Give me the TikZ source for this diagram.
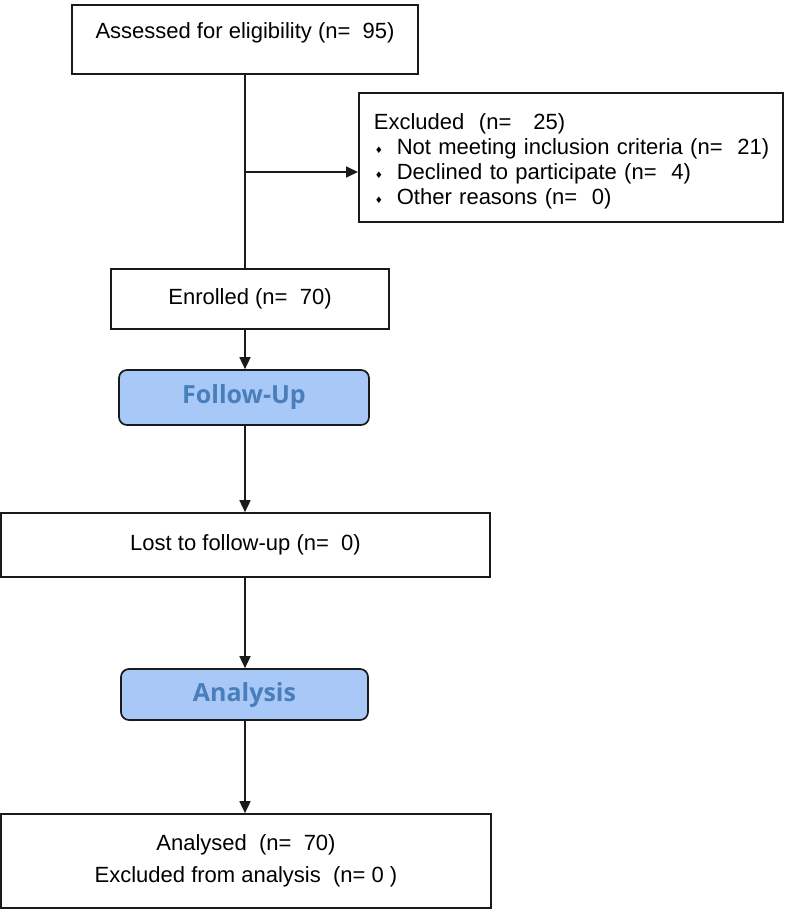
\documentclass[tikz,border=0pt]{standalone}
\usepackage{fontspec}
\setmainfont{Liberation Sans}
\newfontfamily\headfont{Open Sans}
\newfontfamily\symfont{DejaVu Sans}
\usetikzlibrary{arrows.meta}
\definecolor{hdrfill}{HTML}{A8C8F8}
\definecolor{hdrtext}{HTML}{4A7EBB}
\definecolor{edgecol}{HTML}{1A1A1A}
\tikzset{
 box/.style={draw=edgecol, line width=1.7pt, fill=white, inner sep=0pt, font=\fontsize{22}{25}\selectfont},
 hdr/.style={draw=edgecol, line width=1.7pt, fill=hdrfill, rounded corners=8pt, inner sep=0pt, text=hdrtext, font=\headfont\bfseries\fontsize{25}{29}\selectfont},
 conn/.style={draw=edgecol, line width=1.7pt},
 arr/.style={conn, -{Triangle[length=12pt,width=11pt]}},
}
\newcommand{\ind}{\hspace*{5pt}}
\newcommand{\dbul}{\ind\makebox[23pt][l]{\hspace{1pt}\raisebox{1pt}{\symfont\fontsize{9}{9}\selectfont ♦}}}
\begin{document}
\begin{tikzpicture}[x=1pt,y=-1pt]
\useasboundingbox (0,0) rectangle (787,912);
\node[box, anchor=north, minimum width=346pt, text height=34pt, text depth=35pt] (assess) at (245,4) {Assessed for eligibility (n=\ \ 95)};
\node[box, anchor=north west, text width=404pt, inner xsep=10pt, inner ysep=0pt, text height=37pt, text depth=92pt, align=left] (excl) at (358,92) {\ind Excluded\ \ (n=\ \ \ 25)\\ \dbul Not meeting inclusion criteria (n=\ \ 21)\\ \dbul Declined to participate (n=\ \ 4)\\ \dbul Other reasons (n=\ \ 0)};
\node[box, minimum width=278pt, minimum height=60pt] (enrol) at (250,299) {Enrolled (n=\ \ 70)};
\node[hdr, minimum width=250pt, minimum height=55pt] (follow) at (244,397.5) {Follow-Up};
\node[box, minimum width=489pt, minimum height=64pt] (lost) at (245.5,545) {Lost to follow-up (n=\ \ 0)};
\node[hdr, minimum width=247pt, minimum height=51pt] (analysis) at (244.5,694.5) {Analysis};
\node[box, minimum width=490pt, minimum height=94pt, align=center, font=\fontsize{22}{32}\selectfont] (analysed) at (246,861) {Analysed\ \ (n=\ \ 70)\\Excluded from analysis\ \ (n= 0 )};
\coordinate (br) at (245,172);
\draw[conn] (assess.south) -- (enrol.north -| assess.south);
\draw[arr] (br) -- (br -| excl.west);
\draw[arr] (enrol.south -| assess.south) -- (follow.north -| assess.south);
\draw[arr] (follow.south -| assess.south) -- (lost.north -| assess.south);
\draw[arr] (lost.south -| assess.south) -- (analysis.north -| assess.south);
\draw[arr] (analysis.south -| assess.south) -- (analysed.north -| assess.south);
\end{tikzpicture}
\end{document}
